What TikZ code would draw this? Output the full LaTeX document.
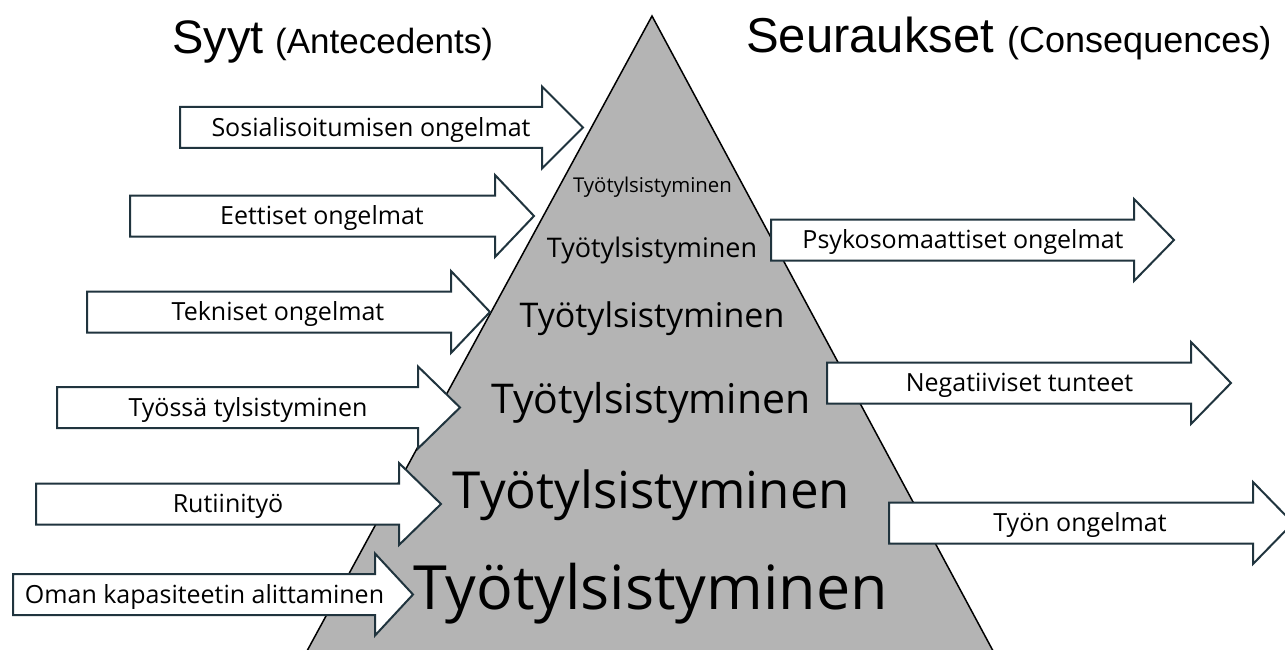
\documentclass[tikz,border=0pt]{standalone}
\usepackage{fontspec}
\setmainfont{Open Sans}
\newfontfamily\titlefont{Liberation Sans}
\definecolor{trigray}{RGB}{180,180,180}
\definecolor{arrline}{RGB}{32,52,62}
\tikzset{
  blockarr/.style={draw=arrline, line width=2pt, fill=white, line join=miter},
  lbl/.style={inner sep=0pt, anchor=base, font=\fontsize{25}{28}\selectfont, text=black},
  tri/.style={draw=black, line width=1.5pt, fill=trigray, line join=miter},
  tt/.style={inner sep=0pt, anchor=base, text=black},
  ttl/.style={inner sep=0pt, anchor=base west, text=black},
}
\newcommand{\blockarrow}[4]{\draw[blockarr] (#1,#4-20.5) -- (#2,#4-20.5) -- (#2,#4-41) -- (#3,#4) -- (#2,#4+41) -- (#2,#4+20.5) -- (#1,#4+20.5) -- cycle;}
\begin{document}
\begin{tikzpicture}[x=1pt,y=-1pt]
\useasboundingbox (0,0) rectangle (1285,650);
\clip (0,0) rectangle (1285,650);
\fill[white] (0,0) rectangle (1285,650);
% titles
\node[ttl, font=\titlefont\fontsize{47}{52}\selectfont] (syyt) at (172,54) {Syyt};
\node[ttl, font=\titlefont\fontsize{35}{40}\selectfont] (ante) at (275,54) {(Antecedents)};
\node[ttl, font=\titlefont\fontsize{49}{54}\selectfont] (seur) at (746,53) {Seuraukset};
\node[ttl, font=\titlefont\fontsize{36}{40}\selectfont] (cons) at (1007,53) {(Consequences)};
% pyramid
\path[tri] (652,16) -- (999,662) -- (301,662) -- cycle;
\node[tt, font=\fontsize{20.4}{24}\selectfont] (t1) at (652.5,192) {Työtylsistyminen};
\node[tt, font=\fontsize{27}{30}\selectfont] (t2) at (652,257) {Työtylsistyminen};
\node[tt, font=\fontsize{34}{38}\selectfont] (t3) at (652,327) {Työtylsistyminen};
\node[tt, font=\fontsize{41}{46}\selectfont] (t4) at (651,413) {Työtylsistyminen};
\node[tt, font=\fontsize{51}{56}\selectfont] (t5) at (651.5,508) {Työtylsistyminen};
\node[tt, font=\fontsize{61}{66}\selectfont] (t6) at (650.5,609) {Työtylsistyminen};
% left arrows
\blockarrow{180}{542}{583}{127.5}
\blockarrow{130}{495}{534}{216}
\blockarrow{87}{451}{490}{312}
\blockarrow{57}{418}{460}{407.5}
\blockarrow{36}{399}{441}{504}
\blockarrow{13}{375}{413}{594.5}
\node[lbl] (a1) at (371,127.5+8.5) {Sosialisoitumisen ongelmat};
\node[lbl] (a2) at (322,216+8.5) {Eettiset ongelmat};
\node[lbl] (a3) at (278,312+8.5) {Tekniset ongelmat};
\node[lbl] (a4) at (248,407.5+8.5) {Työssä tylsistyminen};
\node[lbl] (a5) at (228,504+8.5) {Rutiinityö};
\node[lbl] (a6) at (204.5,594.5+8.5) {Oman kapasiteetin alittaminen};
% right arrows
\blockarrow{771}{1134}{1174}{240}
\blockarrow{827}{1191}{1231}{383}
\blockarrow{889}{1253}{1293}{523}
\node[lbl] (b1) at (963,240+8.5) {Psykosomaattiset ongelmat};
\node[lbl] (b2) at (1019.5,383+8.5) {Negatiiviset tunteet};
\node[lbl] (b3) at (1080,523+8.5) {Työn ongelmat};
\end{tikzpicture}
\end{document}
